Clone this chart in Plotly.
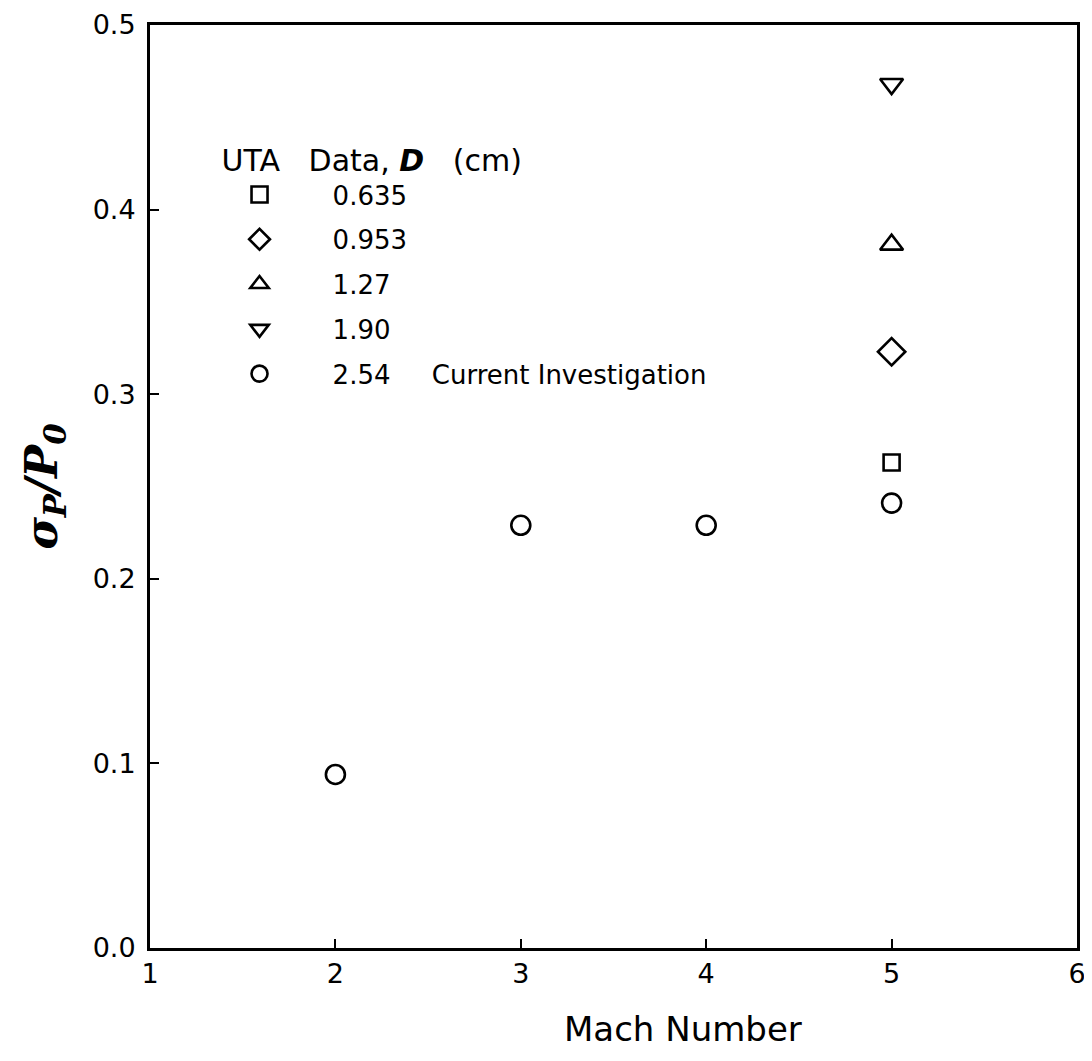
import plotly.graph_objects as go

# Data
mach_current = [2, 3, 4, 5]
sigma_current = [0.094, 0.229, 0.229, 0.241]

uta_mach = [5]
uta_0635 = [0.263]
uta_0953 = [0.323]
uta_127 = [0.381]
uta_190 = [0.468]

SP = "&nbsp;" * 4
series = [
    (SP + "0.635", uta_mach, uta_0635, "square-open", 16),
    (SP + "0.953", uta_mach, uta_0953, "diamond-open", 21),
    (SP + "1.27", uta_mach, uta_127, "triangle-up-open", 20),
    (SP + "1.90", uta_mach, uta_190, "triangle-down-open", 20),
    (SP + "2.54" + "&nbsp;" * 5 + "Current Investigation", mach_current, sigma_current, "circle-open", 19),
]

x_ticks = [1, 2, 3, 4, 5, 6]
y_ticks = [0.0, 0.1, 0.2, 0.3, 0.4, 0.5]

FONT = "DejaVu Sans, Liberation Sans, sans-serif"

fig = go.Figure()
for i, (name, xs, ys, sym, sz) in enumerate(series):
    fig.add_trace(go.Scatter(
        x=xs, y=ys, mode="markers", name=name, legendgroup=f"g{i}",
        marker=dict(symbol=sym, size=sz, color="black", line=dict(color="black", width=2.6)),
    ))

fig.add_annotation(
    text="Mach Number", xref="paper", yref="paper", x=0.575, y=-0.088,
    xanchor="center", yanchor="middle", showarrow=False,
    font=dict(size=34, family=FONT, color="black"),
)

fig.update_layout(
    width=1084, height=1045,
    margin=dict(l=142, r=15, t=17, b=105),
    paper_bgcolor="white", plot_bgcolor="white",
    font=dict(family=FONT, size=26, color="black"),
    showlegend=True,
    legend=dict(
        x=0.075, y=0.884, xanchor="left", yanchor="top",
        bgcolor="rgba(0,0,0,0)",
        title=dict(text="UTA&nbsp;&nbsp;&nbsp;Data,&nbsp;<b><i>D</i></b>&nbsp;&nbsp;&nbsp;(cm)", font=dict(size=30)),
        font=dict(size=26),
        tracegroupgap=8,
        itemwidth=70,
        itemsizing="trace",
    ),
    xaxis=dict(
        range=[1, 6], tickvals=x_ticks, ticktext=[str(v) for v in x_ticks],
        showgrid=False, zeroline=False, automargin=False,
        showline=True, linecolor="black", linewidth=3, mirror=True,
        ticks="inside", ticklen=9, tickwidth=2, tickcolor="black",
        tickfont=dict(size=27), ticklabeloverflow="allow",
    ),
    yaxis=dict(
        range=[0, 0.5], tickvals=y_ticks, ticktext=[f"{v:.1f}" for v in y_ticks],
        showgrid=False, zeroline=False, automargin=False,
        showline=True, linecolor="black", linewidth=3, mirror=True,
        ticks="inside", ticklen=9, tickwidth=2, tickcolor="black",
        tickfont=dict(size=27), ticklabeloverflow="allow", ticklabelstandoff=6,
        title=dict(text="<b><i>σ<sub>P</sub>/P<sub>0</sub></i></b>", font=dict(size=44, family="DejaVu Serif, serif"), standoff=22),
    ),
)

fig.write_html("out.html")
